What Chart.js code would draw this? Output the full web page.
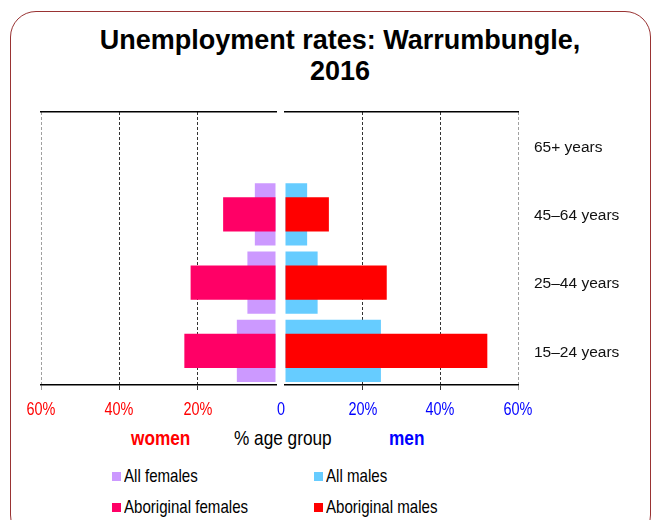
<!DOCTYPE html>
<html>
<head>
<meta charset="utf-8">
<script src="https://cdn.jsdelivr.net/npm/chart.js@4.4.0/dist/chart.umd.min.js"></script>
<style>
    html, body { margin: 0; padding: 0; background: #fff; }
    body { width: 660px; height: 520px; position: relative; overflow: hidden; font-family: 'Liberation Sans', Arial, sans-serif; }
    #frame { position: absolute; left: 10px; top: 11px; width: 641px; height: 530px; border: 1.5px solid #993333; border-radius: 26px; box-sizing: border-box; }
    #title { position: absolute; left: 10px; top: 25px; width: 660px; text-align: center; font-weight: bold; font-size: 27px; line-height: 31px; color: #000; }
    canvas { position: absolute; top: 100px; }
    #women { left: 0; }
    #men { left: 280px; }
    /* no narrow face installed, so squeeze the regular one */
    .squeeze { position: absolute; white-space: nowrap; transform-origin: 0 0; transform: scaleX(0.82); }
    .tick { position: absolute; top: 398px; font-size: 18.5px; line-height: 22px; white-space: nowrap; transform: translateX(-50%) scaleX(0.78); }
    .note { top: 426px; font-size: 21px; line-height: 24px; }
    #note-women { left: 131px; color: #ff0000; font-weight: bold; }
    #note-age { left: 234px; color: #000; }
    #note-men { left: 389px; color: #0000ff; font-weight: bold; }
    .legend-item { position: absolute; font-size: 18.4px; line-height: 20px; white-space: nowrap; color: #000; }
    .legend-item span { position: absolute; left: 0; top: 6px; width: 9px; height: 9px; }
    .legend-item b { position: absolute; left: 12px; top: 0; font-weight: normal; transform-origin: 0 0; transform: scaleX(0.82); }
</style>
</head>
<body>
<div id="frame"></div>
<div id="title">Unemployment rates: Warrumbungle,<br>2016</div>
<canvas id="women" width="280" height="300"></canvas>
<canvas id="men" width="380" height="300"></canvas>
<div id="ticks"></div>
<div id="note-women" class="squeeze note">women</div>
<div id="note-age" class="squeeze note">% age group</div>
<div id="note-men" class="squeeze note">men</div>
<div id="legend"></div>

<script>
// data (percent of age group)
const ageGroups = ['65+ years', '45–64 years', '25–44 years', '15–24 years'];
const allFemales = [null, 5.4, 7.3, 10.0];
const aboriginalFemales = [null, 13.5, 21.8, 23.4];
const allMales = [null, 5.7, 8.4, 24.7];
const aboriginalMales = [null, 11.3, 26.2, 52.1];
const tickValues = [0, 20, 40, 60];

const colours = {
    allFemales: '#cc99ff',
    aboriginalFemales: '#ff0066',
    allMales: '#66ccff',
    aboriginalMales: '#ff0000',
    women: '#ff0000',
    men: '#0000ff',
};

function gridColour(ctx) {
    if (ctx.tick.value === 0) return 'transparent';
    return ctx.tick.value === tickValues[tickValues.length - 1] ? '#a0a0a0' : '#333';
}

function buildOptions(side) {
    const isWomen = side === 'women';
    return {
        indexAxis: 'y',
        responsive: false,
        animation: false,
        layout: {
            padding: isWomen
                ? { left: 41, right: 4, top: 12, bottom: 10 }
                : { left: 5, right: 0, top: 12, bottom: 10 },
        },
        plugins: {
            legend: { display: false },
            tooltip: { enabled: false },
        },
        scales: {
            x: {
                type: 'linear',
                min: tickValues[0],
                max: tickValues[tickValues.length - 1],
                reverse: isWomen,
                afterBuildTicks: (scale) => {
                    scale.ticks = tickValues.map((value) => ({ value }));
                },
                ticks: { display: false },
                grid: {
                    color: gridColour,
                    tickColor: gridColour,
                    lineWidth: 1,
                    tickLength: 5,
                    tickBorderDash: [],
                },
                border: { display: true, color: '#000', width: 1.5, dash: [3, 2] },
            },
            xTop: {
                type: 'linear',
                position: 'top',
                min: 0,
                max: 60,
                grid: { display: false, drawTicks: false },
                ticks: { display: false },
                border: { display: true, color: '#000', width: 1.5 },
            },
            y: {
                type: 'category',
                display: !isWomen,
                position: 'right',
                grid: { display: false, drawTicks: false },
                border: { display: false },
                ticks: {
                    color: '#111',
                    font: { family: "'Liberation Sans', Arial, sans-serif", size: 15.5 },
                    padding: 16,
                    labelOffset: 1.5,
                    crossAlign: 'near',
                },
                afterFit: (scale) => {
                    if (isWomen) return;
                    scale.width = 142;
                    scale.paddingTop = 0;
                    scale.paddingBottom = 0;
                },
            },
        },
    };
}

function bars(label, data, colour, isAll) {
    return {
        label,
        data,
        backgroundColor: colour,
        borderWidth: 0,
        grouped: false,
        categoryPercentage: 1,
        barPercentage: isAll ? 0.91 : 0.5,
        order: isAll ? 1 : 0,
    };
}

const womenCanvas = document.getElementById('women');
const menCanvas = document.getElementById('men');

const womenChart = new Chart(womenCanvas, {
    type: 'bar',
    data: {
        labels: ageGroups,
        datasets: [
            bars('All females', allFemales, colours.allFemales, true),
            bars('Aboriginal females', aboriginalFemales, colours.aboriginalFemales, false),
        ],
    },
    options: buildOptions('women'),
});

const menChart = new Chart(menCanvas, {
    type: 'bar',
    data: {
        labels: ageGroups,
        datasets: [
            bars('All males', allMales, colours.allMales, true),
            bars('Aboriginal males', aboriginalMales, colours.aboriginalMales, false),
        ],
    },
    options: buildOptions('men'),
});

// x tick labels as squeezed text, placed with each chart's own x scale
const ticksBox = document.getElementById('ticks');
function addTick(text, x, colour) {
    const el = document.createElement('div');
    el.className = 'tick';
    el.textContent = text;
    el.style.left = x + 'px';
    el.style.color = colour;
    ticksBox.appendChild(el);
}
[[womenChart, womenCanvas, colours.women], [menChart, menCanvas, colours.men]].forEach(([chart, canvas, colour]) => {
    tickValues.filter((v) => v !== 0).forEach((v) => {
        addTick(v + '%', canvas.offsetLeft + chart.scales.x.getPixelForValue(v), colour);
    });
});
const zeroX = (womenCanvas.offsetLeft + womenChart.scales.x.getPixelForValue(0)
    + menCanvas.offsetLeft + menChart.scales.x.getPixelForValue(0)) / 2;
addTick('0', zeroX, colours.men);

// legend, two columns by two rows
const legendItems = [
    { name: 'All females', colour: colours.allFemales },
    { name: 'All males', colour: colours.allMales },
    { name: 'Aboriginal females', colour: colours.aboriginalFemales },
    { name: 'Aboriginal males', colour: colours.aboriginalMales },
];
const legendCols = [112, 314];
const legendRows = [466, 497];
const legend = document.getElementById('legend');
legendItems.forEach((item, i) => {
    const el = document.createElement('div');
    el.className = 'legend-item';
    el.style.left = legendCols[i % 2] + 'px';
    el.style.top = legendRows[Math.floor(i / 2)] + 'px';
    el.innerHTML = '<span style="background:' + item.colour + '"></span><b>' + item.name + '</b>';
    legend.appendChild(el);
});
</script>
</body>
</html>
